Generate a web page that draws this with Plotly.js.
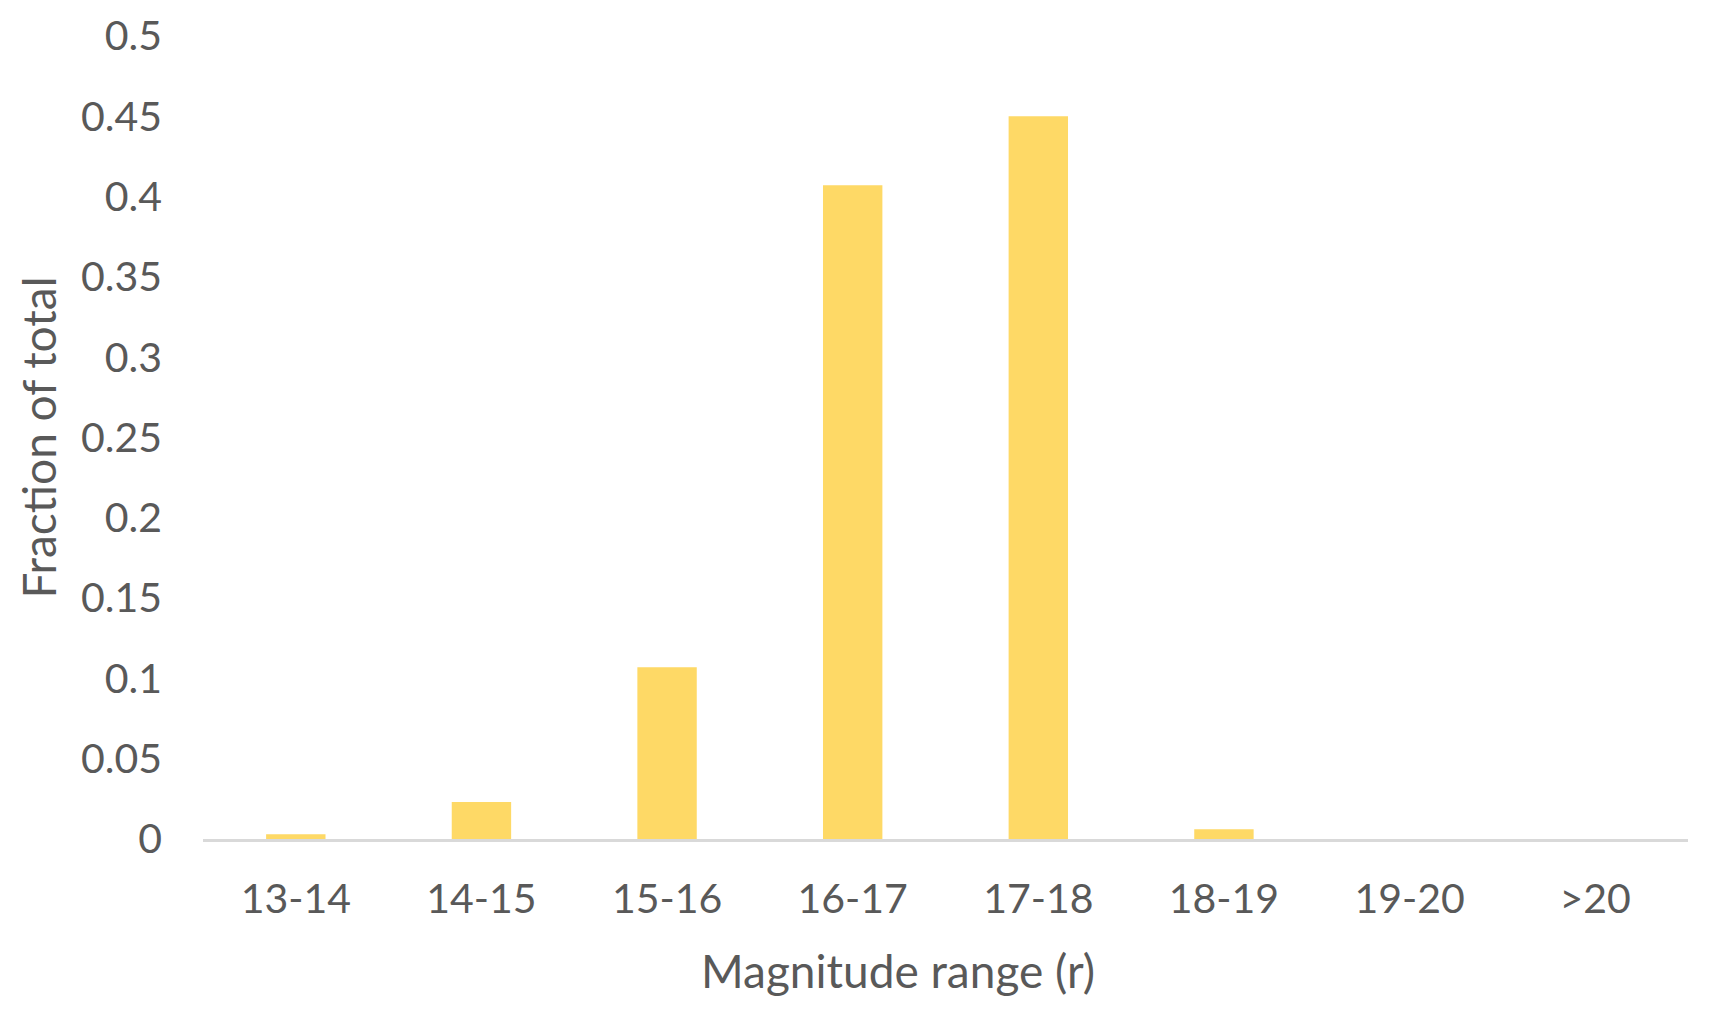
<!DOCTYPE html>
<html>
<head>
<meta charset="utf-8">
<script src="https://cdn.plot.ly/plotly-3.0.1.min.js"></script>
<style>
  html, body { margin: 0; padding: 0; background: #ffffff; }
  #magPlot { width: 1713px; height: 1011px; }
</style>
</head>
<body>
<div id="magPlot"></div>
<script>
// Magnitude bins (r band) and the fraction of the sample in each
var magnitudeBins = ['13-14', '14-15', '15-16', '16-17', '17-18', '18-19', '19-20', '>20'];
var fractionOfTotal = [0.003, 0.023, 0.107, 0.407, 0.450, 0.006, 0, 0];
var yTickValues = [0, 0.05, 0.1, 0.15, 0.2, 0.25, 0.3, 0.35, 0.4, 0.45, 0.5];
var yTickLabels = ['0', '0.05', '0.1', '0.15', '0.2', '0.25', '0.3', '0.35', '0.4', '0.45', '0.5'];

var textColour = '#595959';
var fontFamily = 'Lato, "Open Sans", sans-serif';

var barTrace = {
    x: magnitudeBins,
    y: fractionOfTotal,
    type: 'bar',
    marker: { color: '#FED966' },
    hoverinfo: 'x+y'
};

var layout = {
    width: 1713,
    height: 1011,
    paper_bgcolor: '#ffffff',
    plot_bgcolor: '#ffffff',
    margin: { l: 203, r: 25, t: 36, b: 172 },
    bargap: 0.68,
    showlegend: false,
    font: { family: fontFamily, color: textColour, size: 41 },
    xaxis: {
        type: 'category',
        showgrid: false,
        zeroline: false,
        showline: true,
        linecolor: '#D9D9D9',
        linewidth: 3,
        ticks: '',
        ticklabelstandoff: 22,
        tickfont: { family: fontFamily, color: textColour, size: 41 }
    },
    yaxis: {
        range: [0, 0.5],
        tickvals: yTickValues,
        ticktext: yTickLabels,
        showgrid: false,
        zeroline: false,
        showline: false,
        ticks: '',
        ticklabelstandoff: 40,
        tickfont: { family: fontFamily, color: textColour, size: 41 },
        title: {
            text: 'Fraction of total',
            font: { family: fontFamily, color: textColour, size: 46 },
            standoff: 9
        }
    },
    // x-axis title sits a little left of the plot centre, as in the original
    annotations: [{
        text: 'Magnitude range (r)',
        xref: 'paper',
        yref: 'paper',
        x: 0.468,
        y: -0.164,
        xanchor: 'center',
        yanchor: 'middle',
        showarrow: false,
        font: { family: fontFamily, color: textColour, size: 46 }
    }]
};

Plotly.newPlot('magPlot', [barTrace], layout, { staticPlot: true, displayModeBar: false });
</script>
</body>
</html>
